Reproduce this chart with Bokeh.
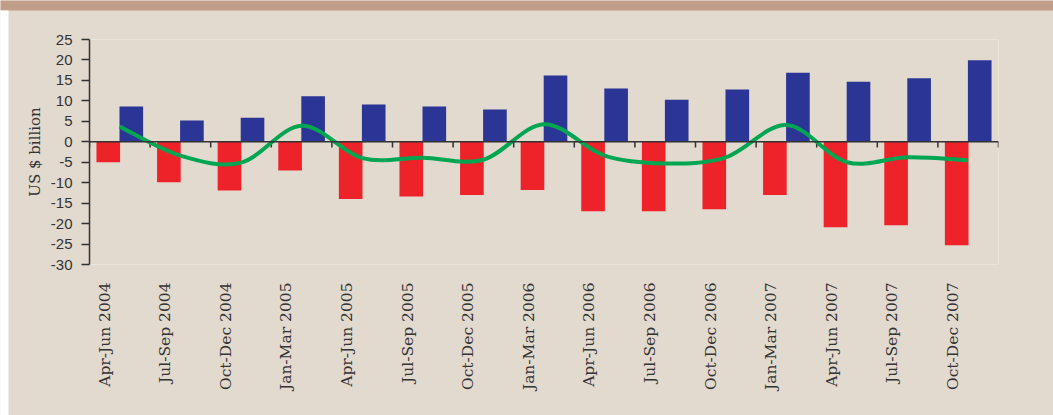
import numpy as np
from bokeh.plotting import figure
from bokeh.models import (ColumnDataSource, Range1d, LinearAxis, FixedTicker, Span,
                          Legend, LegendItem, ColorBar, LinearColorMapper)
from bokeh.embed import file_html
from bokeh.resources import INLINE

quarters = ["Apr-Jun 2004", "Jul-Sep 2004", "Oct-Dec 2004", "Jan-Mar 2005",
            "Apr-Jun 2005", "Jul-Sep 2005", "Oct-Dec 2005", "Jan-Mar 2006",
            "Apr-Jun 2006", "Jul-Sep 2006", "Oct-Dec 2006", "Jan-Mar 2007",
            "Apr-Jun 2007", "Jul-Sep 2007", "Oct-Dec 2007"]
trade_balance = [-5.0, -9.9, -11.9, -7.0, -14.0, -13.4, -13.0, -11.8,
                 -17.0, -17.0, -16.5, -13.0, -20.9, -20.4, -25.3]
invisible_balance = [8.6, 5.2, 5.9, 11.1, 9.1, 8.6, 7.9, 16.2,
                     13.0, 10.3, 12.8, 16.9, 14.7, 15.5, 19.9]
current_account = [3.7, -3.4, -5.1, 3.9, -4.0, -3.9, -4.4, 4.3,
                   -3.4, -5.3, -3.8, 4.1, -5.0, -3.8, -4.5]
y_ticks = [-30, -25, -20, -15, -10, -5, 0, 5, 10, 15, 20, 25]

BG = "#E2D9CF"
BAND = "#C09E89"
RED = "#EE2229"
BLUE = "#2B3595"
GREEN = "#00A651"
AXIS = "#333333"
TXT = "#333333"

n = len(quarters)
idx = np.arange(n, dtype=float)

W, H = 1053, 415
FL, FR, FT, FB = 89, 998, 39, 264   # frame edges in canvas pixels
p = figure(width=W, height=H, x_range=Range1d(0, n), y_range=Range1d(-30, 25),
           output_backend="svg", toolbar_location=None,
           x_axis_type=None, y_axis_type=None,
           min_border_left=FL, min_border_right=W - FR,
           min_border_top=FT, min_border_bottom=H - FB,
           background_fill_color=BG, border_fill_color=BG, outline_line_color=None)

# decorative top band and left white strip (single-colour colour bars)
def strip(color, x, y, w, h):
    cb = ColorBar(color_mapper=LinearColorMapper(palette=[color, color], low=0, high=1),
                  orientation="horizontal" if w > h else "vertical",
                  location=(x - FL, FB - y - h), width=w, height=h,
                  padding=0, margin=0, title=None,
                  ticker=FixedTicker(ticks=[]), major_label_text_font_size="0px",
                  major_tick_line_color=None, minor_tick_line_color=None,
                  bar_line_color=None, border_line_color=None,
                  background_fill_alpha=0, label_standoff=0)
    p.add_layout(cb, "center")

strip(BAND, 0, 0, W, 10)
strip("#FFFFFF", 0, 10, 8, H - 10)

# y axis
yaxis = LinearAxis(ticker=FixedTicker(ticks=y_ticks, minor_ticks=[]),
                   major_label_overrides={t: str(t) for t in y_ticks},
                   axis_label="US $ billion",
                   axis_label_text_font="DejaVu Serif", axis_label_text_font_size="15px",
                   axis_label_text_font_style="normal", axis_label_text_color=TXT,
                   axis_label_standoff=4,
                   major_label_text_font="Liberation Sans", major_label_text_font_size="15px",
                   major_label_text_color=TXT, major_label_standoff=9,
                   major_tick_out=8, major_tick_in=0, major_tick_line_color=AXIS,
                   major_tick_line_width=1.5,
                   minor_tick_line_color=None,
                   axis_line_color=AXIS, axis_line_width=1.5)
p.add_layout(yaxis, "left")

# x axis (labels only, at the bottom)
label_pos = [float(i) + 0.25 for i in range(n)]
xaxis = LinearAxis(ticker=FixedTicker(ticks=label_pos, minor_ticks=[]),
                   major_label_overrides={lp: q for lp, q in zip(label_pos, quarters)},
                   major_label_orientation=np.pi / 2,
                   major_label_text_font="DejaVu Serif", major_label_text_font_size="15.5px",
                   major_label_text_color=TXT, major_label_standoff=12,
                   major_tick_line_color=None, minor_tick_line_color=None,
                   axis_line_color=None)
p.add_layout(xaxis, "below")

# bars
src = ColumnDataSource(dict(x_trade=idx + 0.31, x_inv=idx + 0.69,
                            trade=trade_balance, inv=invisible_balance))
r_trade = p.vbar(x="x_trade", top="trade", bottom=0, width=0.39, source=src,
                 fill_color=RED, line_color=None)
r_inv = p.vbar(x="x_inv", top="inv", bottom=0, width=0.39, source=src,
               fill_color=BLUE, line_color=None)

# zero axis line with category boundary ticks
p.add_layout(Span(location=0, dimension="width", line_color=AXIS, line_width=1.5))
bounds = np.arange(n + 1, dtype=float)
p.segment(x0=bounds, y0=np.zeros(n + 1), x1=bounds, y1=np.full(n + 1, -1.4),
          line_color=AXIS, line_width=1.5)

# smoothed current account line (cubic bezier through the data points)
xc = idx + 0.5
yc = np.array(current_account, dtype=float)
xp = np.concatenate([[xc[0]], xc, [xc[-1]]])
yp = np.concatenate([[yc[0]], yc, [yc[-1]]])
bz = dict(x0=xc[:-1], y0=yc[:-1], x1=xc[1:], y1=yc[1:],
          cx0=xc[:-1] + (xp[2:-1] - xp[:-3]) / 6.0,
          cy0=yc[:-1] + (yp[2:-1] - yp[:-3]) / 6.0,
          cx1=xc[1:] - (xp[3:] - xp[1:-2]) / 6.0,
          cy1=yc[1:] - (yp[3:] - yp[1:-2]) / 6.0)
r_ca = p.bezier(source=ColumnDataSource(bz), x0="x0", y0="y0", x1="x1", y1="y1",
                cx0="cx0", cy0="cy0", cx1="cx1", cy1="cy1",
                line_color=GREEN, line_width=4)

# legends
common = dict(glyph_height=13, padding=0, margin=0, spacing=0,
              border_line_color=None, background_fill_alpha=0,
              label_text_font="Liberation Serif", label_text_font_size="15px",
              label_text_color=TXT, orientation="horizontal")
LY = FB - 417
leg1 = Legend(items=[LegendItem(label="Trade Balance", renderers=[r_trade])],
              location=(223 - FL, LY), glyph_width=13, label_standoff=10, **common)
leg2 = Legend(items=[LegendItem(label="Invisible Balance", renderers=[r_inv])],
              location=(354 - FL, LY), glyph_width=13, label_standoff=10, **common)
leg3 = Legend(items=[LegendItem(label="Current Account Balance", renderers=[r_ca])],
              location=(502 - FL, LY), glyph_width=27, label_standoff=8, **common)
for lg in (leg1, leg2, leg3):
    p.add_layout(lg, "center")

open("out.html", "w").write(file_html(p, INLINE))
